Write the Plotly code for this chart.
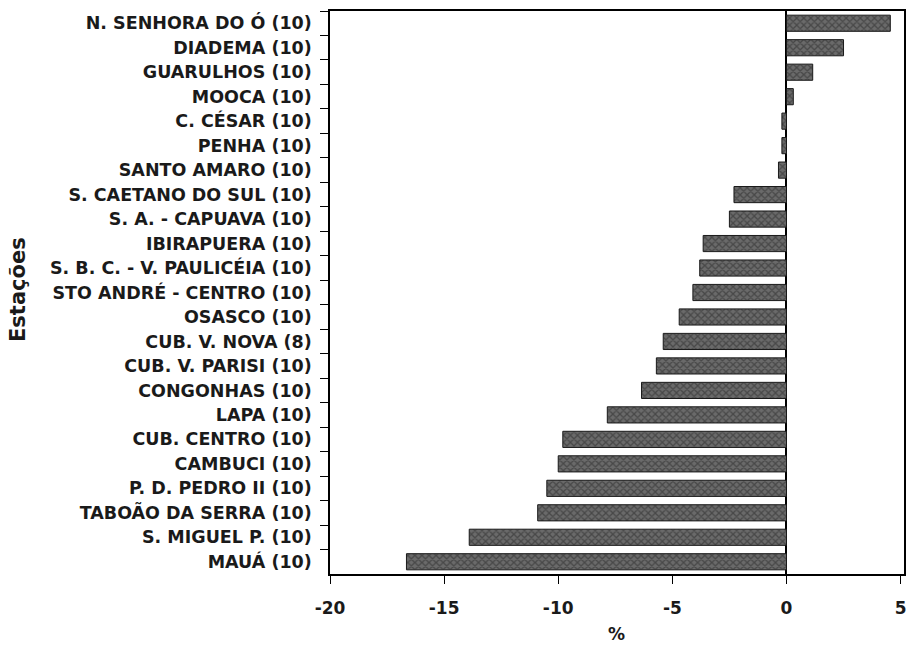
import plotly.graph_objects as go

stations = [
    "N. SENHORA DO Ó (10)", "DIADEMA (10)", "GUARULHOS (10)", "MOOCA (10)",
    "C. CÉSAR (10)", "PENHA (10)", "SANTO AMARO (10)", "S. CAETANO DO SUL (10)",
    "S. A. - CAPUAVA (10)", "IBIRAPUERA (10)", "S. B. C. - V. PAULICÉIA (10)",
    "STO ANDRÉ - CENTRO (10)", "OSASCO (10)", "CUB. V. NOVA (8)", "CUB. V. PARISI (10)",
    "CONGONHAS (10)", "LAPA (10)", "CUB. CENTRO (10)", "CAMBUCI (10)",
    "P. D. PEDRO II (10)", "TABOÃO DA SERRA (10)", "S. MIGUEL P. (10)", "MAUÁ (10)",
]
values = [4.55, 2.5, 1.15, 0.3, -0.2, -0.2, -0.35, -2.3, -2.5, -3.65, -3.8, -4.1,
          -4.7, -5.4, -5.7, -6.35, -7.85, -9.8, -10.0, -10.5, -10.9, -13.9, -16.65]
x_ticks = [-20, -15, -10, -5, 0, 5]
x_ticktext = ["<b>-20</b>", "<b>-15</b>", "<b>-10</b>", "<b>-5</b>", "<b>0</b>", "<b>5</b>"]

FONT = "DejaVu Sans, sans-serif"
L, R, T, B = 330, 2, 11, 74
W, H = 906, 648

fig = go.Figure(go.Bar(
    x=values, y=stations, orientation="h", width=0.66,
    marker=dict(color="#6a6a6a", line=dict(color="#1a1a1a", width=1),
                pattern=dict(shape="x", fgcolor="#262626", size=5, solidity=0.45)),
))

fig.update_layout(
    width=W, height=H,
    margin=dict(l=L, r=R, t=T, b=B, autoexpand=False),
    paper_bgcolor="white", plot_bgcolor="white",
    showlegend=False,
    font=dict(family=FONT, color="#1a1a1a"),
    xaxis=dict(range=[-20, 5.15], tickvals=x_ticks, ticktext=x_ticktext,
               ticks="outside", ticklen=8, automargin=False, ticklabeloverflow="allow",
               tickcolor="black", showline=True, linecolor="black", linewidth=1.5,
               mirror=True, showgrid=False, zeroline=True, zerolinecolor="black",
               zerolinewidth=1.5, tickfont=dict(size=17, family=FONT),
               ticklabelstandoff=10),
    yaxis=dict(categoryorder="array", categoryarray=stations, range=[22.5, -0.5],
               tickson="boundaries", ticks="outside", ticklen=8, tickcolor="black",
               showline=True, linecolor="black", linewidth=1.5, mirror=True,
               automargin=False, tickprefix="<b>", ticksuffix="</b>",
               showgrid=False, tickfont=dict(size=17.5, family=FONT),
               ticklabelstandoff=13),
)

pw, ph = W - L - R, H - T - B
def ann(text, px, py, angle=0, size=17):
    fig.add_annotation(text=text, x=(px - L) / pw, y=(H - B - py) / ph,
                       xref="paper", yref="paper", showarrow=False,
                       xanchor="center", yanchor="middle",
                       textangle=angle, font=dict(size=size, family=FONT))

ann("<b>Estações</b>", 18, 290, angle=-90, size=21)
ann("<b>%</b>", 616, 634, size=17)

fig.write_html("out.html", config={"displayModeBar": False},
               post_script="document.body.style.margin='0';document.body.style.overflow='hidden';")
